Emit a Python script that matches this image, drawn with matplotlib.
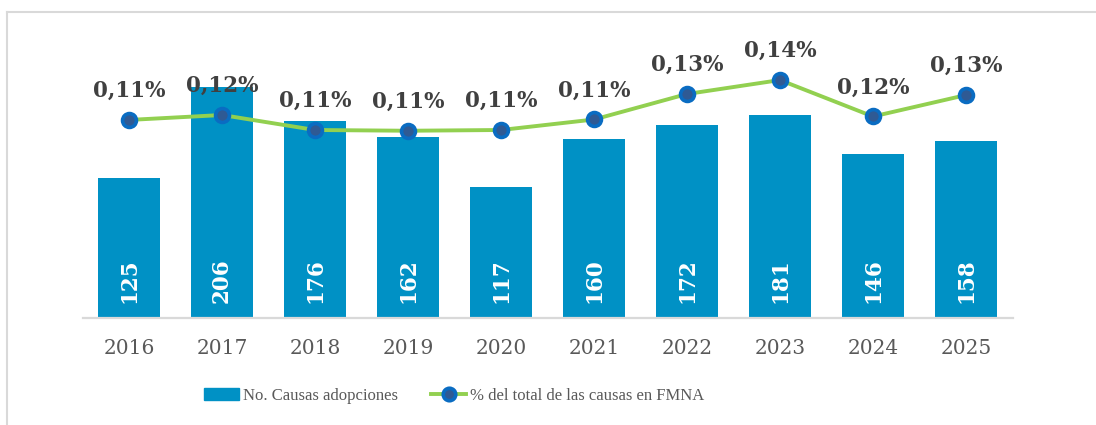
import numpy as np
import matplotlib
matplotlib.use("Agg")
import matplotlib.pyplot as plt
from matplotlib.lines import Line2D
from matplotlib.patches import Patch

# Datos
anios = ["2016", "2017", "2018", "2019", "2020", "2021", "2022", "2023", "2024", "2025"]
causas = [125, 206, 176, 162, 117, 160, 172, 181, 146, 158]
porcentaje = [0.1137, 0.117, 0.107, 0.1065, 0.107, 0.114, 0.131, 0.1403, 0.116, 0.1303]

azul_barra = "#0091C5"
verde = "#92D050"
azul_marca = "#0A6CC2"
gris_texto = "#404040"
gris_eje = "#595959"

plt.rcParams["font.family"] = ["DejaVu Serif"]

fig = plt.figure(figsize=(10.96, 4.25), dpi=100)
ax = fig.add_axes([82.5 / 1096, 107 / 425, 930 / 1096, 280 / 425])
x = np.arange(len(anios))

ax.bar(x, causas, width=0.67, color=azul_barra, zorder=2)
ax.set_xlim(-0.5, len(anios) - 0.5)
ax.set_ylim(0, 250)
ax.set_yticks([])
for s in ["top", "right", "left"]:
    ax.spines[s].set_visible(False)
ax.spines["bottom"].set_color("#D9D9D9")
ax.spines["bottom"].set_linewidth(1.6)
ax.set_xticks(x)
ax.set_xticklabels(anios, fontsize=14.5, color=gris_eje)
ax.tick_params(axis="x", length=0, pad=15)

# Etiquetas dentro de las barras
for xi, v in zip(x, causas):
    ax.annotate(str(v), (xi, 0), xytext=(0, 11), textcoords="offset points",
                rotation=90, ha="center", va="bottom", color="white",
                fontsize=15.5, fontweight="bold")

# Eje secundario para el porcentaje
ax2 = ax.twinx()
ax2.set_ylim(-0.01833, 0.16833)
ax2.set_yticks([])
for s in ax2.spines.values():
    s.set_visible(False)
ax2.plot(x, porcentaje, color=verde, linewidth=2.8, zorder=3,
         marker="o", markersize=10, markerfacecolor="#2F5A94",
         markeredgecolor=azul_marca, markeredgewidth=2.6)

for xi, v in zip(x, porcentaje):
    etiqueta = f"{v:.2f}%".replace(".", ",")
    ax2.annotate(etiqueta, (xi, v), xytext=(0, 13), textcoords="offset points",
                 ha="center", va="bottom", color=gris_texto,
                 fontsize=15.5, fontweight="bold")

# Leyenda
handles = [Patch(color=azul_barra),
           Line2D([0], [0], color=verde, linewidth=2.8, marker="o", markersize=9,
                  markerfacecolor="#2F5A94", markeredgecolor=azul_marca,
                  markeredgewidth=2.6)]
labels = ["No. Causas adopciones", "% del total de las causas en FMNA"]
leg = fig.legend(handles, labels, loc="center", bbox_to_anchor=(454 / 1096, 29 / 425),
                 ncol=2, frameon=False, prop={"family": "Liberation Serif", "size": 12},
                 handlelength=2.1, handleheight=0.75, handletextpad=0.25,
                 columnspacing=2.0)
for t in leg.get_texts():
    t.set_color(gris_eje)

# Marco del área del gráfico
fig.add_artist(Line2D([7 / 1096, 7 / 1096], [0, 1 - 12 / 425], color="#D9D9D9", linewidth=1.5))
fig.add_artist(Line2D([7 / 1096, 1], [1 - 12 / 425, 1 - 12 / 425], color="#D9D9D9", linewidth=1.5))

fig.savefig("out.png", dpi=100)
